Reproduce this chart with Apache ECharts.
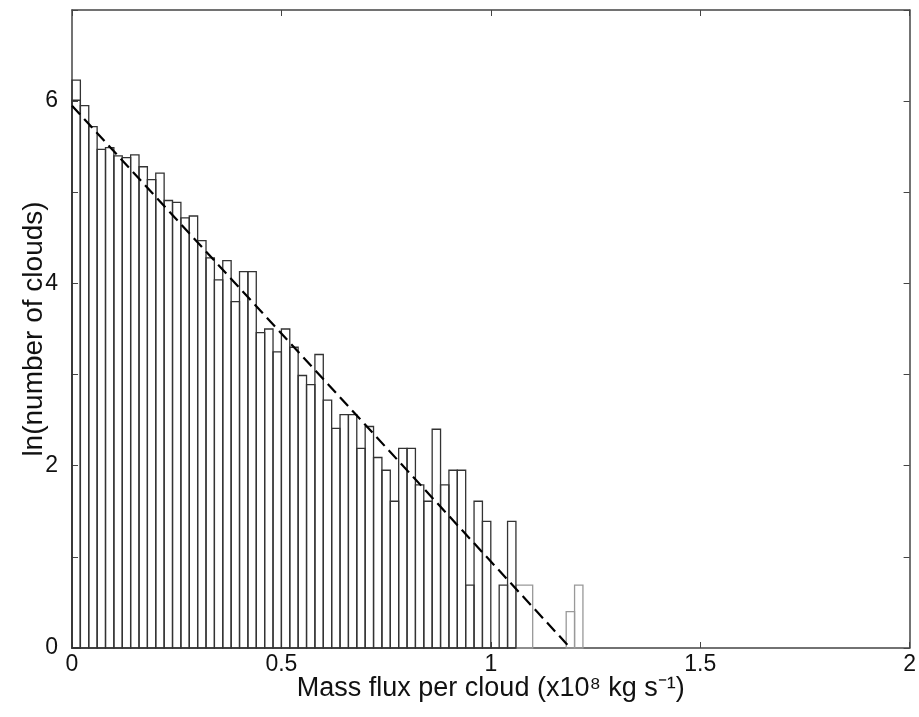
<!DOCTYPE html>
<html>
<head>
<meta charset="utf-8">
<script src="https://cdn.jsdelivr.net/npm/echarts@6/dist/echarts.min.js"></script>
<style>
  html, body { margin: 0; padding: 0; background: #fff; }
  #chart { width: 919px; height: 717px; }
</style>
</head>
<body>
<div id="chart"></div>
<script>
// histogram bins of width 0.02 starting at 0
var BIN_WIDTH = 0.02;
var lnCounts = [
  6.23, 5.95, 5.72, 5.47, 5.49, 5.40, 5.38, 5.41, 5.28, 5.14,
  5.21, 4.91, 4.89, 4.72, 4.74, 4.47, 4.28, 4.04, 4.25, 3.80,
  4.13, 4.13, 3.46, 3.50, 3.25, 3.50, 3.30, 2.99, 2.89, 3.22,
  2.72, 2.41, 2.56, 2.56, 2.19, 2.43, 2.09, 1.95, 1.61, 2.19,
  2.19, 1.79, 1.61, 2.40, 1.79, 1.95, 1.95, 0.69, 1.61, 1.39,
  0, 0.69, 1.39
];
// extra line drawn inside the first bin
var innerLeft = [0];
var innerHeight = [6.01];
// light grey tail bars
var tailLeft = [1.06, 1.18, 1.20];
var tailRight = [1.10, 1.20, 1.22];
var tailHeight = [0.69, 0.40, 0.69];
// dashed fit line
var fitX = [0, 1.19];
var fitY = [5.95, 0];

var xTicks = [0, 0.5, 1, 1.5, 2];
var yLabels = [0, 2, 4, 6];

var mainBars = lnCounts.map(function (h, i) {
  return [i * BIN_WIDTH, (i + 1) * BIN_WIDTH, h];
});
var innerBars = innerLeft.map(function (x, i) {
  return [x, x + BIN_WIDTH, innerHeight[i]];
});
var tailBars = tailLeft.map(function (x, i) {
  return [x, tailRight[i], tailHeight[i]];
});

function rectItem(color) {
  return function (params, api) {
    var p0 = api.coord([api.value(0), api.value(2)]);
    var p1 = api.coord([api.value(1), 0]);
    return {
      type: 'rect',
      shape: { x: p0[0], y: p0[1], width: p1[0] - p0[0], height: p1[1] - p0[1] },
      style: { fill: 'none', stroke: color, lineWidth: 1.3 }
    };
  };
}

var chart = echarts.init(document.getElementById('chart'));
var axisColor = '#444';
var fontFam = '"Liberation Sans", Arial, sans-serif';

chart.setOption({
  animation: false,
  grid: { left: 72, right: 9, top: 10, bottom: 69 },
  xAxis: [{
    type: 'value', min: 0, max: 2, interval: 0.5,
    name: 'Mass flux per cloud (x10\u2078 kg s\u207B\u00B9)',
    nameLocation: 'middle', nameGap: 27, nameMoveOverlap: false,
    nameTextStyle: { fontSize: 27, color: '#111', fontFamily: fontFam },
    axisLine: { onZero: false, lineStyle: { color: axisColor, width: 1.5 } },
    axisTick: { inside: true, length: 6, lineStyle: { color: axisColor } },
    axisLabel: {
      fontSize: 23, color: '#111', fontFamily: fontFam, margin: 5,
      formatter: function (v) { return xTicks.indexOf(v) >= 0 ? String(v) : ''; }
    },
    splitLine: { show: false }
  }, {
    type: 'value', min: 0, max: 2, interval: 0.5, position: 'top',
    axisLine: { onZero: false, lineStyle: { color: axisColor, width: 1.5 } },
    axisTick: { inside: true, length: 6, lineStyle: { color: axisColor } },
    axisLabel: { show: false }, splitLine: { show: false }
  }],
  yAxis: [{
    type: 'value', min: 0, max: 7, interval: 1,
    name: 'ln(number of clouds)',
    nameLocation: 'middle', nameGap: 24, nameMoveOverlap: false,
    nameTextStyle: { fontSize: 28, color: '#111', fontFamily: fontFam },
    axisLine: { show: true, onZero: false, lineStyle: { color: axisColor, width: 1.5 } },
    axisTick: { show: true, inside: true, length: 6, lineStyle: { color: axisColor } },
    axisLabel: {
      fontSize: 23, color: '#111', fontFamily: fontFam, margin: 14,
      formatter: function (v) { return yLabels.indexOf(v) >= 0 ? String(v) : ''; }
    },
    splitLine: { show: false }
  }, {
    type: 'value', min: 0, max: 7, interval: 1, position: 'right',
    axisLine: { show: true, onZero: false, lineStyle: { color: axisColor, width: 1.5 } },
    axisTick: { show: true, inside: true, length: 6, lineStyle: { color: axisColor } },
    axisLabel: { show: false }, splitLine: { show: false }
  }],
  series: [{
    type: 'custom', renderItem: rectItem('#999'),
    data: tailBars, encode: { x: [0, 1], y: 2 }, z: 2
  }, {
    type: 'custom', renderItem: rectItem('#333'),
    data: mainBars, encode: { x: [0, 1], y: 2 }, z: 3
  }, {
    type: 'custom', renderItem: rectItem('#333'),
    data: innerBars, encode: { x: [0, 1], y: 2 }, z: 3
  }, {
    type: 'line', symbol: 'none', z: 5,
    data: fitX.map(function (x, i) { return [x, fitY[i]]; }),
    lineStyle: { color: '#000', width: 2.2, type: [12, 6] }
  }]
});
</script>
</body>
</html>
